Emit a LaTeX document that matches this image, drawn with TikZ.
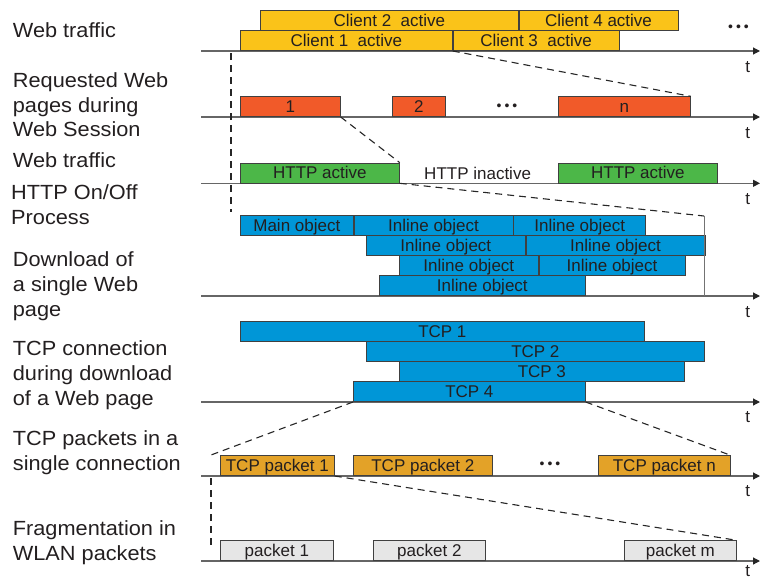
\documentclass[tikz,border=0pt]{standalone}
\usepackage{fontspec}
\setmainfont{Liberation Sans}
\newfontfamily\rowlabelfamily[FakeStretch=1.06]{Liberation Sans}
\newcommand\rowlabelfont{\rowlabelfamily\fontsize{20.5}{24.7}\selectfont}
\newcommand\segfont{\fontsize{17}{20}\selectfont}
\usetikzlibrary{arrows.meta}

\definecolor{clientc}{RGB}{250,195,25}
\definecolor{pagec}{RGB}{241,90,41}
\definecolor{httpc}{RGB}{76,183,72}
\definecolor{objc}{RGB}{0,150,215}
\definecolor{tcppc}{RGB}{227,162,40}
\definecolor{wlanc}{RGB}{230,230,230}
\definecolor{txt}{RGB}{35,31,32}

\tikzset{
    seg/.style={draw=black!75, line width=0.7pt, inner sep=0pt, minimum height=20pt,
        text height=14pt, text depth=2pt, anchor=south west, text=txt, font=\segfont},
    rowlabel/.style={anchor=base west, inner sep=0pt, text=txt, font=\rowlabelfont},
    timeaxis/.style={black!60, line width=1.2pt, -{Triangle[length=7pt,width=7pt,color=black!85]}},
    zoomline/.style={black!85, line width=1.1pt, dash pattern=on 7pt off 5pt},
    tlabel/.style={anchor=base, inner sep=0pt, text=txt, font=\fontsize{17}{20}\selectfont},
    moredots/.style={inner sep=0pt, text=txt, font=\fontsize{14}{14}\selectfont},
}

\begin{document}
\begin{tikzpicture}[x=1pt, y=-1pt]
            \useasboundingbox (0,0) rectangle (761,581);

            % row labels
            \node [rowlabel] (lweb) at (12.7,37.3) {Web traffic};
            \node [rowlabel] (lpages) at (12.7,87.3) {\begin{tabular}[t]{@{}l@{}}Requested Web\\pages during\\Web Session\end{tabular}};
            \node [rowlabel] (lweb2) at (12.7,167.3) {Web traffic};
            \node [rowlabel] (lhttp) at (11,199.6) {\begin{tabular}[t]{@{}l@{}}HTTP On/Off\\Process\end{tabular}};
            \node [rowlabel] (ldown) at (12.7,266.7) {\begin{tabular}[t]{@{}l@{}}Download of\\a single Web\\page\end{tabular}};
            \node [rowlabel] (ltcp) at (12.7,355.7) {\begin{tabular}[t]{@{}l@{}}TCP connection\\during download\\of a Web page\end{tabular}};
            \node [rowlabel] (lpkt) at (12.7,445.7) {\begin{tabular}[t]{@{}l@{}}TCP packets in a\\single connection\end{tabular}};
            \node [rowlabel] (lfrag) at (12.7,535.7) {\begin{tabular}[t]{@{}l@{}}Fragmentation in\\WLAN packets\end{tabular}};

            % time axes
            \foreach \y/\ty/\n in {51/72/1, 117/138/2, 183.3/204/3, 296/317/4, 402/422/5, 476/496/6, 561/576.5/7} {
                \draw [timeaxis] (201,\y) -- (760,\y);
                \node [tlabel] (t\n) at (747.7,\ty) {t};
            }

            % clients
            \node [seg, fill=clientc, minimum width=212pt] (cl1) at (240,51) {Client 1\ \ active};
            \node [seg, fill=clientc, minimum width=166pt] (cl3) at (cl1.south east) {Client 3\ \ active};
            \node [seg, fill=clientc, minimum width=258pt] (cl2) at (260,31) {Client 2\ \ active};
            \node [seg, fill=clientc, minimum width=159pt] (cl4) at (cl2.south east) {Client 4 active};
            \node [moredots] (dots1) at (738.5,28.3) {\textbullet\hspace{3pt}\textbullet\hspace{3pt}\textbullet};

            % pages
            \node [seg, fill=pagec, minimum width=100pt] (pg1) at (240,117) {1};
            \node [seg, fill=pagec, minimum width=53pt] (pg2) at (392,117) {2};
            \node [seg, fill=pagec, minimum width=132pt] (pgn) at (558,117) {n};
            \node [moredots] (dots2) at (507,107) {\textbullet\hspace{3pt}\textbullet\hspace{3pt}\textbullet};

            % http on/off
            \node [seg, fill=httpc, minimum width=159pt] (ht1) at (240,183.3) {HTTP active};
            \node [seg, fill=httpc, minimum width=159pt] (ht2) at (558,183.3) {HTTP active};
            \node [anchor=base, inner sep=0pt, text=txt, font=\segfont] (hoff) at (477.6,179) {HTTP inactive};

            % objects
            \node [seg, fill=objc, minimum width=113pt] (ob1) at (240,236) {Main object};
            \node [seg, fill=objc, minimum width=159pt] (ob2) at (ob1.south east) {Inline object};
            \node [seg, fill=objc, minimum width=132pt] (ob3) at (ob2.south east) {Inline object};
            \node [seg, fill=objc, minimum width=159pt] (ob4) at (366,256) {Inline object};
            \node [seg, fill=objc, minimum width=179pt] (ob5) at (ob4.south east) {Inline object};
            \node [seg, fill=objc, minimum width=139pt] (ob6) at (399,276) {Inline object};
            \node [seg, fill=objc, minimum width=146pt] (ob7) at (ob6.south east) {Inline object};
            \node [seg, fill=objc, minimum width=206pt] (ob8) at (379,296) {Inline object};

            % tcp connections
            \node [seg, fill=objc, minimum width=404pt] (tc1) at (240,342) {TCP 1};
            \node [seg, fill=objc, minimum width=338pt] (tc2) at (366,362) {TCP 2};
            \node [seg, fill=objc, minimum width=285pt] (tc3) at (399,382) {TCP 3};
            \node [seg, fill=objc, minimum width=232pt] (tc4) at (353,402) {TCP 4};

            % tcp packets
            \node [seg, fill=tcppc, minimum width=114pt] (tp1) at (220,476) {TCP packet 1};
            \node [seg, fill=tcppc, minimum width=139pt] (tp2) at (353,476) {TCP packet 2};
            \node [seg, fill=tcppc, minimum width=132pt] (tpn) at (598,476) {TCP packet n};
            \node [moredots] (dots3) at (550,465) {\textbullet\hspace{3pt}\textbullet\hspace{3pt}\textbullet};

            % wlan packets
            \node [seg, fill=wlanc, minimum width=113pt] (wp1) at (220,561) {packet 1};
            \node [seg, fill=wlanc, minimum width=112pt] (wp2) at (373,561) {packet 2};
            \node [seg, fill=wlanc, minimum width=112pt] (wpm) at (624,561) {packet m};

            % zoom lines
            \coordinate (st1) at (231,53);
            \coordinate (st2) at (231,212);
            \coordinate (objtop) at (704,216);
            \coordinate (pktst) at (211,455);
            \coordinate (fr1) at (211,478);
            \coordinate (fr2) at (211,547);

            \draw [zoomline] (st1) -- (st2);
            \draw [zoomline] (cl3.south west) -- (pgn.north east);
            \draw [zoomline] (pg1.south east) -- (ht1.north east);
            \draw [zoomline] (ht1.south east) -- (objtop);
            \draw [black!55, line width=0.8pt] (objtop) -- (objtop |- ob8.south);
            \draw [zoomline] (tc4.south west) -- (pktst);
            \draw [zoomline] (tc4.south east) -- (tpn.north east);
            \draw [zoomline] (fr1) -- (fr2);
            \draw [zoomline] (tp1.south east) -- (wpm.north east);
\end{tikzpicture}
\end{document}
